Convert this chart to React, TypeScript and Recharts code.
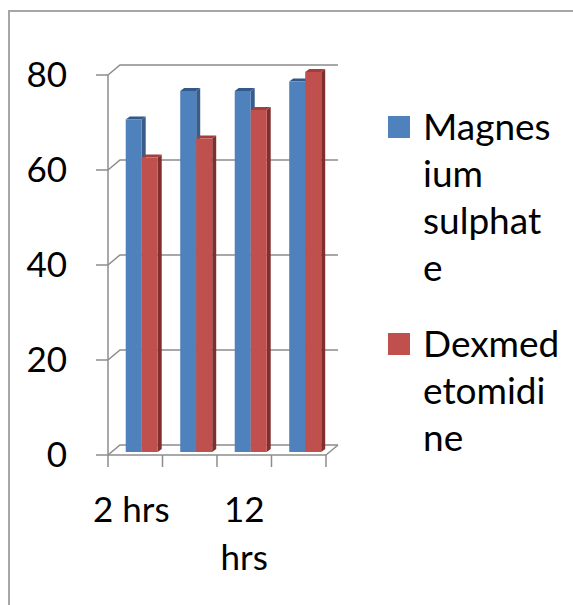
import React from 'react';
import { BarChart, Bar, XAxis, YAxis, CartesianGrid, Legend } from 'recharts';

// time points (Excel only printed every other label)
const CATEGORIES = ['2 hrs', '6 hrs', '12 hrs', '24 hrs'];
const MAGNESIUM = [70, 76, 76, 78];
const DEXMED = [62, 66, 72, 80];
const Y_TICKS = [0, 20, 40, 60, 80];
const SERIES_NAMES = ['Magnesium sulphate', 'Dexmedetomidine'];
// legend text as Excel wrapped it
const LEGEND_LINES = [
  ['Magnes', 'ium', 'sulphat', 'e'],
  ['Dexmed', 'etomidi', 'ne'],
];

const data = CATEGORIES.map((name, i) => ({
  name,
  mg: MAGNESIUM[i],
  dex: DEXMED[i],
}));

const FONT = 'Lato, "Open Sans", sans-serif';
const AXIS = '#8c8c8c';
const WALL_DX = 12;
const WALL_DY = 10;

const COLORS = {
  blue: { front: '#4f81bd', side: '#385d8a', top: '#33598a' },
  red: { front: '#c0504d', side: '#7f2f2d', top: '#a23f3c' },
};

// column drawn with a fake 3D side and cap, shifted half-way into the depth
const Bar3D = (props: any) => {
  const { x, y, width, height, palette } = props;
  if (height <= 0) return null;
  const dx = 6;
  const dy = -3;
  const cx = 4;
  const cy = 3;
  const l = x + dx;
  const t = y + dy;
  const r = l + width;
  const b = t + height;
  return (
    <g>
      <polygon points={`${r},${t} ${r + cx},${t - cy} ${r + cx},${b - cy} ${r},${b}`} fill={palette.side} />
      <polygon points={`${l},${t} ${l + cx},${t - cy} ${r + cx},${t - cy} ${r},${t}`} fill={palette.top} />
      <rect x={l} y={t} width={width} height={height} fill={palette.front} />
    </g>
  );
};

// back wall gridline with the diagonal from the front axis
const WallLine = (props: any) => {
  const { x1, y1, x2 } = props;
  return (
    <path
      key={`wall-${y1}`}
      d={`M${x1},${y1} L${x1 + WALL_DX},${y1 - WALL_DY} L${x2 + WALL_DX},${y1 - WALL_DY}`}
      stroke={AXIS}
      strokeWidth={1.5}
      fill="none"
    />
  );
};

const wrapLabel = (s: string) => (s.length > 5 ? s.split(' ') : [s]);

const CategoryTick = (props: any) => {
  const { x, y, payload, index } = props;
  const half = payload && payload.offset ? payload.offset : 27.25;
  const lines = index % 2 === 0 ? wrapLabel(String(payload.value)) : [];
  const last = index === CATEGORIES.length - 1;
  return (
    <g>
      <line x1={x - half} y1={y} x2={x - half} y2={y + 12} stroke={AXIS} strokeWidth={1.5} />
      {last && (
        <>
          <line x1={x + half} y1={y} x2={x + half} y2={y + 12} stroke={AXIS} strokeWidth={1.5} />
          <line x1={x + half} y1={y} x2={x + half + WALL_DX} y2={y - WALL_DY} stroke={AXIS} strokeWidth={1.5} />
        </>
      )}
      <text x={x} y={y} textAnchor="middle" fill="#000" fontSize={35} fontFamily={FONT}>
        {lines.map((l, i) => (
          <tspan key={l} x={i === 0 && lines.length === 1 ? x - 4 : x} dy={i === 0 ? 67 : 48}>
            {l}
          </tspan>
        ))}
      </text>
    </g>
  );
};

const renderLegend = () => (
  <div style={{ fontFamily: FONT, fontSize: 37, color: '#000', whiteSpace: 'nowrap' }}>
    {SERIES_NAMES.map((name, i) => (
      <div key={name} style={{ display: 'flex', marginBottom: i === 0 ? 29 : 0 }}>
        <div
          style={{
            width: 22,
            height: 22,
            background: i === 0 ? COLORS.blue.front : COLORS.red.front,
            marginTop: 14,
            marginRight: 13,
            flexShrink: 0,
          }}
        />
        <div style={{ lineHeight: '47px' }}>
          {LEGEND_LINES[i].map((line) => (
            <div key={line}>{line}</div>
          ))}
        </div>
      </div>
    ))}
  </div>
);

export default function App() {
  return (
    <div
      style={{
        position: 'absolute',
        left: 0,
        top: 0,
        width: 573,
        height: 605,
        overflow: 'hidden',
        background: '#fff',
      }}
    >
      <div
        style={{
          position: 'absolute',
          left: 8,
          top: 10,
          width: 700,
          height: 700,
          border: '2px solid #a6a6a6',
        }}
      />
      <div style={{ position: 'absolute', left: 0, top: 0 }}>
        <BarChart
          width={573}
          height={605}
          data={data}
          margin={{ top: 75, right: 67, bottom: 90, left: 8 }}
          barCategoryGap="21.5%"
          barGap={0}
        >
          <CartesianGrid vertical={false} horizontal={(p: any) => <WallLine {...p} />} />
          <XAxis
            dataKey="name"
            interval={0}
            height={60}
            tickSize={0}
            tickMargin={0}
            tickLine={false}
            axisLine={{ stroke: AXIS, strokeWidth: 1.5 }}
            tick={(p: any) => <CategoryTick {...p} />}
          />
          <YAxis
            domain={[0, 80]}
            ticks={Y_TICKS}
            width={100}
            tickSize={12}
            tickMargin={29}
            axisLine={{ stroke: AXIS, strokeWidth: 1.5 }}
            tickLine={{ stroke: AXIS, strokeWidth: 1.5 }}
            tick={{ fill: '#000', fontSize: 35, fontFamily: FONT }}
          />
          <Legend
            layout="vertical"
            align="right"
            verticalAlign="top"
            content={renderLegend}
            wrapperStyle={{ left: 388, top: 102, width: 180 }}
          />
          <Bar
            dataKey="mg"
            name={SERIES_NAMES[0]}
            isAnimationActive={false}
            shape={(p: any) => <Bar3D {...p} palette={COLORS.blue} />}
          />
          <Bar
            dataKey="dex"
            name={SERIES_NAMES[1]}
            isAnimationActive={false}
            shape={(p: any) => <Bar3D {...p} palette={COLORS.red} />}
          />
        </BarChart>
      </div>
    </div>
  );
}
